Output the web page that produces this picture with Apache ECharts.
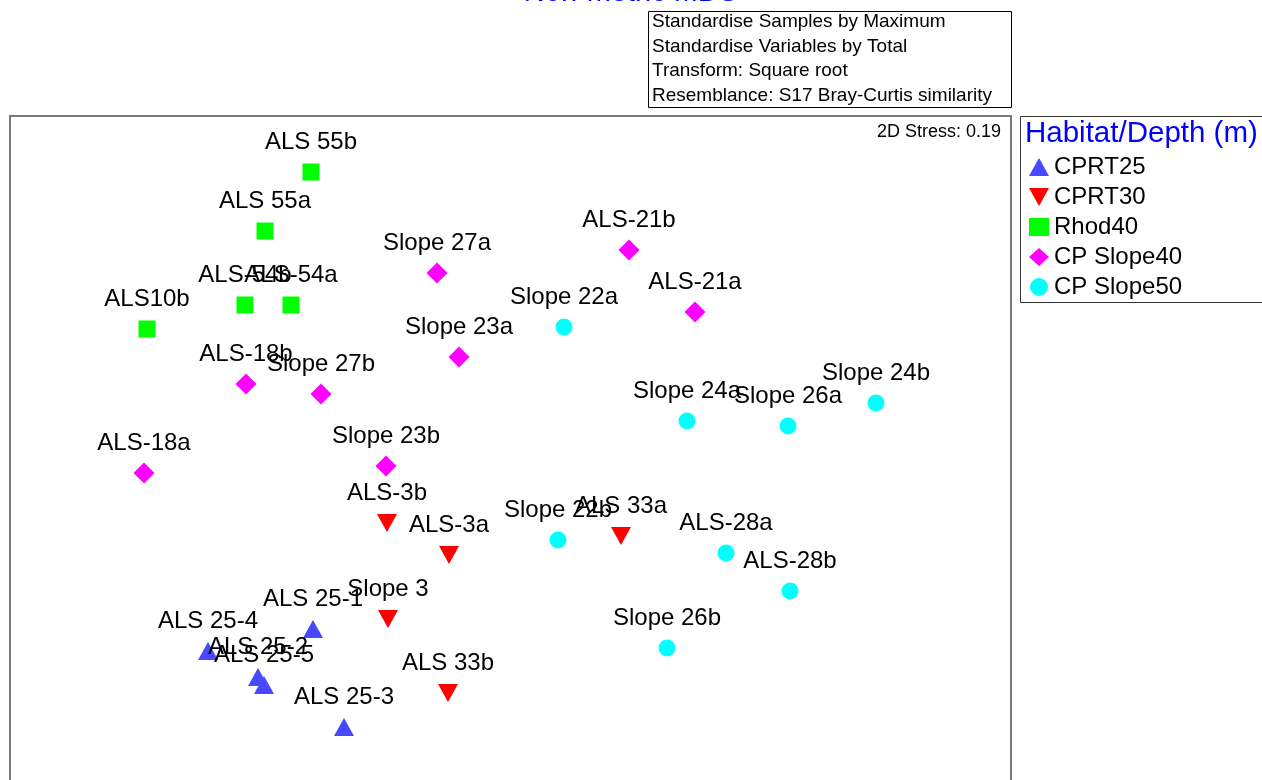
<!DOCTYPE html>
<html>
<head>
<meta charset="utf-8">
<script src="https://cdn.jsdelivr.net/npm/echarts@6/dist/echarts.min.js"></script>
<style>html,body{margin:0;padding:0;background:#fff;}#c{width:1262px;height:780px;}</style>
</head>
<body>
<div id="c"></div>
<script>
// Group names (legend order)
const groups = ['CPRT25', 'CPRT30', 'Rhod40', 'CP Slope40', 'CP Slope50'];

// Sample names and MDS coordinates (arbitrary units)
const cprt25Names = ['ALS 25-1', 'ALS 25-4', 'ALS 25-2', 'ALS 25-5', 'ALS 25-3'];
const cprt25X = [30.3, 19.8, 24.8, 25.4, 33.4];
const cprt25Y = [18.7, 16.5, 13.9, 13.1, 8.9];

const cprt30Names = ['ALS-3b', 'ALS-3a', 'Slope 3', 'ALS 33b', 'ALS 33a'];
const cprt30X = [37.7, 43.9, 37.8, 43.8, 61.1];
const cprt30Y = [29.3, 26.1, 19.7, 12.3, 28.0];

const rhod40Names = ['ALS 55b', 'ALS 55a', 'ALS-54b', 'ALS-54a', 'ALS10b'];
const rhod40X = [30.1, 25.5, 23.5, 28.1, 13.7];
const rhod40Y = [64.4, 58.5, 51.1, 51.1, 48.7];

const slope40Names = ['ALS-21b', 'Slope 27a', 'ALS-21a', 'Slope 23a', 'ALS-18b', 'Slope 27b', 'Slope 23b', 'ALS-18a'];
const slope40X = [61.9, 42.7, 68.5, 44.9, 23.6, 31.1, 37.6, 13.4];
const slope40Y = [56.6, 54.3, 50.4, 45.9, 43.2, 42.2, 35.0, 34.3];

const slope50Names = ['Slope 22a', 'Slope 24a', 'Slope 26a', 'Slope 24b', 'Slope 22b', 'ALS-28a', 'ALS-28b', 'Slope 26b'];
const slope50X = [55.4, 67.7, 77.8, 86.6, 54.8, 71.6, 78.0, 65.7];
const slope50Y = [48.9, 39.5, 39.0, 41.3, 27.6, 26.3, 22.5, 16.8];

const infoLines = [
  'Standardise Samples by Maximum',
  'Standardise Variables by Total',
  'Transform: Square root',
  'Resemblance: S17 Bray-Curtis similarity'
];
const titleText = 'Non-metric MDS';
const legendTitle = 'Habitat/Depth (m)';
const stressText = '2D Stress: 0.19';

const FONT = 'Arial, "Liberation Sans", sans-serif';

function pts(names, xs, ys) {
  return names.map((n, i) => ({ name: n, value: [xs[i], ys[i]] }));
}

const styles = [
  { symbol: 'triangle', size: [20, 18], color: '#4848ff' },
  { symbol: 'path://M0,0 L10,0 L5,9 Z', size: [20, 18], color: '#ff0000' },
  { symbol: 'rect', size: 17, color: '#00ff00' },
  { symbol: 'diamond', size: [21, 21], color: '#ff00ff' },
  { symbol: 'circle', size: 17, color: '#00ffff' }
];
const dataSets = [
  pts(cprt25Names, cprt25X, cprt25Y),
  pts(cprt30Names, cprt30X, cprt30Y),
  pts(rhod40Names, rhod40X, rhod40Y),
  pts(slope40Names, slope40X, slope40Y),
  pts(slope50Names, slope50X, slope50Y)
];

const series = groups.map((g, i) => ({
  name: g,
  type: 'scatter',
  symbol: styles[i].symbol,
  symbolSize: styles[i].size,
  itemStyle: { color: styles[i].color, opacity: 1 },
  data: dataSets[i],
  label: {
    show: true,
    position: 'inside',
    offset: [0, -30],
    formatter: '{b}',
    color: '#000',
    fontFamily: FONT,
    fontSize: 24
  },
  emphasis: { disabled: true },
  z: 3
}));

const graphic = [
  { type: 'text', left: 'center', top: -22, style: { text: titleText, fill: '#0000ff', font: '29px ' + FONT } },
  { type: 'rect', shape: { x: 648.5, y: 11.5, width: 363, height: 96 }, style: { fill: '#fff', stroke: '#000', lineWidth: 1 } },
  { type: 'rect', shape: { x: 10, y: 116, width: 1001, height: 700 }, style: { fill: 'none', stroke: '#7a7a7a', lineWidth: 2 }, z: 0 },
  { type: 'rect', shape: { x: 1020.5, y: 116.5, width: 260, height: 186 }, style: { fill: '#fff', stroke: '#333', lineWidth: 1 }, z: 0 },
  { type: 'text', x: 1025, y: 134, style: { text: legendTitle, fill: '#0000ff', font: '29.5px ' + FONT, textVerticalAlign: 'middle' } },
  { type: 'text', x: 1001, y: 132, style: { text: stressText, fill: '#000', font: '18px ' + FONT, textAlign: 'right', textVerticalAlign: 'middle' } }
];
infoLines.forEach((t, i) => {
  graphic.push({ type: 'text', x: 652, y: 22 + i * 24.5, style: { text: t, fill: '#000', font: '19px ' + FONT, textVerticalAlign: 'middle' } });
});

const chart = echarts.init(document.getElementById('c'), null, { renderer: 'canvas' });
chart.setOption({
  animation: false,
  backgroundColor: '#fff',
  grid: { show: false, left: 10, top: 116, width: 1000, bottom: 0 },
  xAxis: { type: 'value', min: 0, max: 100, show: false },
  yAxis: { type: 'value', min: 3.6, max: 70, show: false },
  legend: {
    orient: 'vertical',
    left: 1024,
    top: 150,
    itemWidth: 20,
    itemHeight: 18,
    itemGap: 6,
    data: groups,
    textStyle: { fontFamily: FONT, fontSize: 24, color: '#000', lineHeight: 24 },
    selectedMode: false
  },
  graphic: graphic,
  series: series
});
</script>
</body>
</html>
